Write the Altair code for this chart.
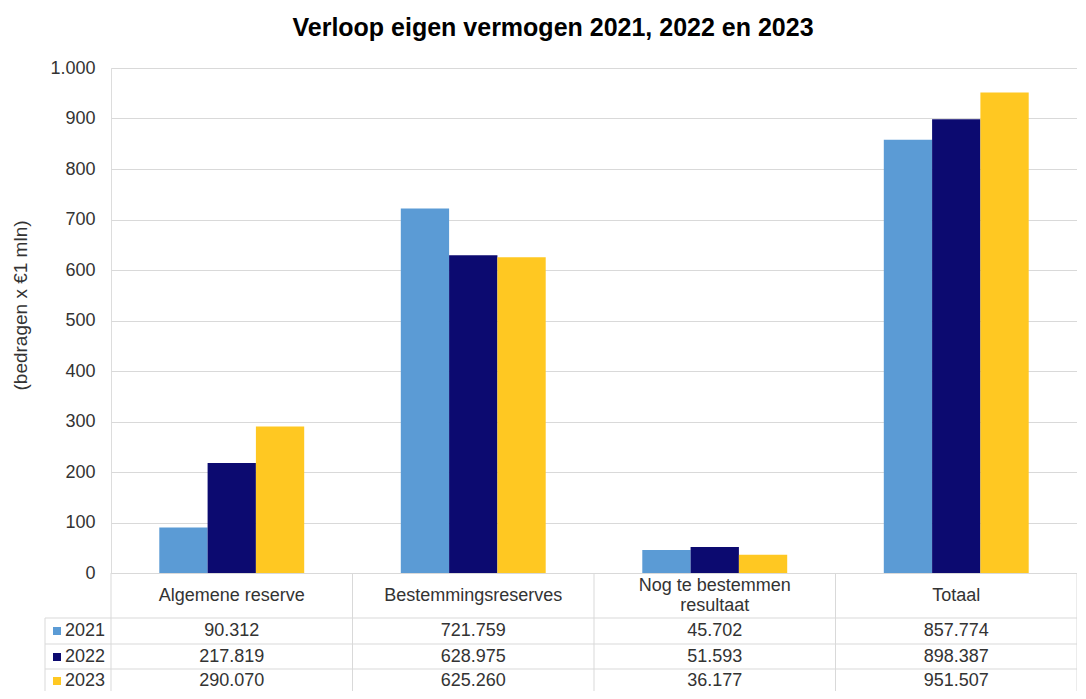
import altair as alt
import pandas as pd

categories = ["Algemene reserve", "Bestemmingsreserves", "Nog te bestemmen resultaat", "Totaal"]
header_labels = ["Algemene reserve", "Bestemmingsreserves", "Nog te bestemmen\nresultaat", "Totaal"]
years = ["2021", "2022", "2023"]
values_2021 = [90.312, 721.759, 45.702, 857.774]
values_2022 = [217.819, 628.975, 51.593, 898.387]
values_2023 = [290.070, 625.260, 36.177, 951.507]
colors = ["#5B9BD5", "#0C0A70", "#FFC822"]
y_ticks = list(range(0, 1001, 100))

series = {"2021": values_2021, "2022": values_2022, "2023": values_2023}
rows = []
for yr in years:
    for c, v in zip(categories, series[yr]):
        rows.append({"cat": c, "year": yr, "value": v})
df = pd.DataFrame(rows)
hdr = pd.DataFrame({"cat": categories, "label": header_labels})
hdr1 = hdr[~hdr.label.str.contains("\n")]
hdr2 = hdr[hdr.label.str.contains("\n")]
yrs = pd.DataFrame({"year": years})

W = 966
H = 505
GRID = "#d9d9d9"
TXT = "#333333"
FONT = "Liberation Sans"

xenc = alt.X(
    "cat:N", sort=categories,
    scale=alt.Scale(paddingInner=0.4, paddingOuter=0.2),
    axis=alt.Axis(title=None, labels=False, ticks=False, grid=False,
                  domain=True, domainColor=GRID, domainWidth=1),
)
cscale = alt.Scale(domain=years, range=colors)

bars = alt.Chart(df).mark_bar().encode(
    x=xenc,
    xOffset=alt.XOffset("year:N", sort=years),
    y=alt.Y("value:Q", scale=alt.Scale(domain=[0, 1000], nice=False),
            axis=alt.Axis(values=y_ticks, title="(bedragen x €1 mln)",
                          titleFontSize=19, titleFontWeight="normal", titleColor=TXT,
                          titlePadding=19, titleY=237, labelFontSize=18, labelColor=TXT,
                          labelPadding=16, ticks=False, domain=False,
                          gridColor=GRID,
                          labelExpr="replace(format(datum.value, ','), ',', '.')")),
    color=alt.Color("year:N", scale=cscale, legend=None),
)

layers = [bars]

# header labels
layers.append(
    alt.Chart(hdr1).mark_text(fontSize=18, color=TXT, baseline="middle", font=FONT).encode(
        x=xenc, y=alt.value(H + 23), text="label:N")
)
layers.append(
    alt.Chart(hdr2).mark_text(fontSize=18, color=TXT, baseline="middle", lineBreak="\n",
                              lineHeight=20, font=FONT).encode(
        x=xenc, y=alt.value(H + 13), text="label:N")
)

row_y = {"2021": H + 58, "2022": H + 84, "2023": H + 108}
for yr in years:
    sub = df[df.year == yr]
    layers.append(
        alt.Chart(sub).mark_text(fontSize=18, color=TXT, baseline="middle", font=FONT).encode(
            x=xenc, y=alt.value(row_y[yr]), text=alt.Text("value:Q", format=".3f"))
    )
    ys = yrs[yrs.year == yr]
    layers.append(
        alt.Chart(ys).mark_square(size=64, opacity=1).encode(
            x=alt.value(-54), y=alt.value(row_y[yr]),
            color=alt.Color("year:N", scale=cscale, legend=None))
    )
    layers.append(
        alt.Chart(ys).mark_text(fontSize=18, color=TXT, baseline="middle", align="left",
                                font=FONT).encode(
            x=alt.value(-46), y=alt.value(row_y[yr]), text="year:N")
    )

one = pd.DataFrame({"k": [0]})
# horizontal table lines
for yy in [H + 45, H + 71, H + 96, H + 122]:
    layers.append(alt.Chart(one).mark_rule(color=GRID, strokeWidth=1).encode(
        x=alt.value(-66), x2=alt.value(W), y=alt.value(yy)))
# vertical table lines
layers.append(alt.Chart(one).mark_rule(color=GRID, strokeWidth=1).encode(
    x=alt.value(-66), y=alt.value(H + 45), y2=alt.value(H + 122)))
for i in range(5):
    layers.append(alt.Chart(one).mark_rule(color=GRID, strokeWidth=1).encode(
        x=alt.value(W * i / 4), y=alt.value(H), y2=alt.value(H + 122)))

chart = alt.layer(*layers).properties(
    width=W, height=H,
    title=alt.TitleParams("Verloop eigen vermogen 2021, 2022 en 2023", fontSize=25,
                          fontWeight="bold", color="#000000", font=FONT,
                          offset=18, dx=-41, anchor="middle"),
    autosize=alt.AutoSizeParams(type="none"),
    padding={"left": 103, "top": 60, "right": 0, "bottom": 118},
).configure_view(stroke=None).configure(font=FONT)

chart.save("out.html", embed_options={"renderer": "svg", "actions": False})
